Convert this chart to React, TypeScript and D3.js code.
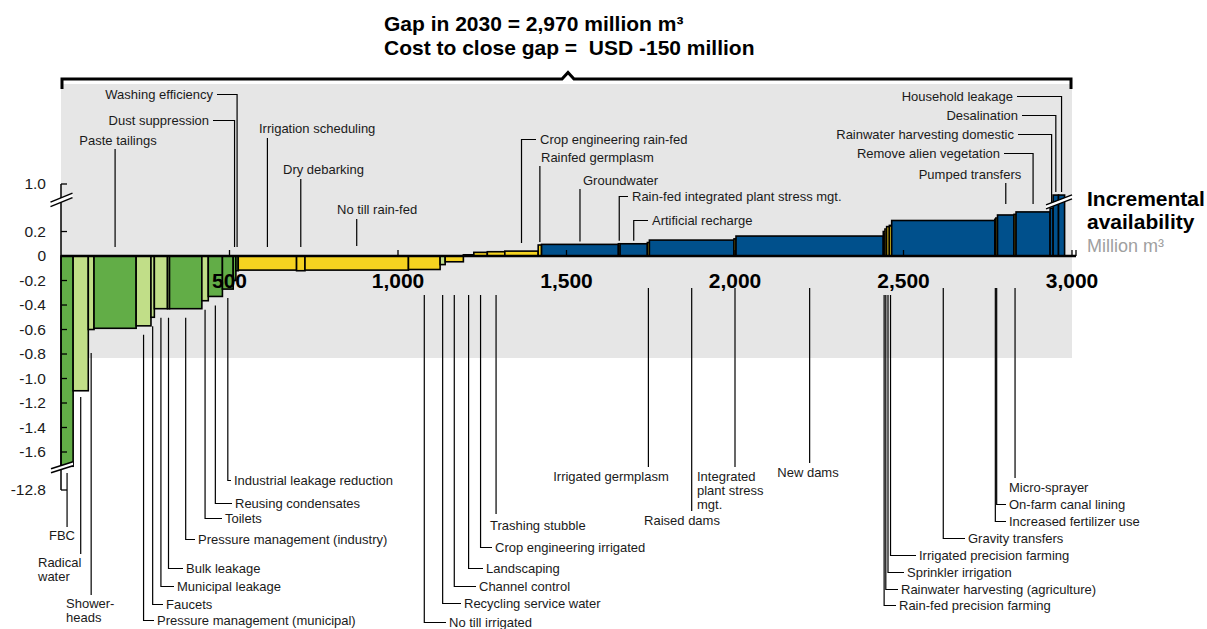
import * as d3 from "d3";

// Water supply cost curve: volumes in million m3, costs in USD per m3
const measures = [
  "FBC", "Radical water", "Shower-heads", "Paste tailings", "Pressure management (municipal)",
  "Faucets", "Municipal leakage", "Bulk leakage", "Pressure management (industry)", "Toilets",
  "Reusing condensates", "Industrial leakage reduction", "Dust suppression", "Washing efficiency",
  "Irrigation scheduling", "Dry debarking", "No till rain-fed", "No till irrigated",
  "Recycling service water", "Channel control", "Landscaping", "Crop engineering irrigated",
  "Trashing stubble", "Crop engineering rain-fed", "Rainfed germplasm", "Groundwater",
  "Rain-fed integrated plant stress mgt.", "Artificial recharge", "Irrigated germplasm", "Raised dams",
  "Integrated plant stress mgt.", "New dams", "Rain-fed precision farming",
  "Rainwater harvesting (agriculture)", "Sprinkler irrigation", "Irrigated precision farming",
  "Gravity transfers", "Increased fertilizer use", "On-farm canal lining", "Pumped transfers",
  "Micro-sprayer", "Remove alien vegetation", "Rainwater harvesting domestic", "Desalination",
  "Household leakage",
];

const volumes = [
  36, 45, 17, 125, 44, 10, 39, 6, 96, 19, 42, 32, 8, 7,
  173, 25, 307, 94, 15, 54, 31, 40, 52, 99,
  10, 228, 5, 81, 6, 251, 6, 437,
  5, 5, 8, 7, 306, 3, 5, 49, 6, 101, 9, 16, 18,
];

const costs = [
  -12.8, -1.1, -0.6, -0.59, -0.57, -0.5, -0.43, -0.43, -0.43, -0.365, -0.33, -0.27, -0.2, -0.12,
  -0.115, -0.12, -0.115, -0.11, -0.07, -0.047, 0.01, 0.03, 0.035, 0.04,
  0.09, 0.095, 0.1, 0.1, 0.11, 0.13, 0.14, 0.163,
  0.2, 0.22, 0.24, 0.25, 0.29, 0.3, 0.31, 0.335, 0.34, 0.36, 0.39, 0.64, 0.64,
];

// ind = industry, mun = municipal, agr = agriculture, sup = supply
const sectors = [
  "ind", "mun", "mun", "ind", "mun", "mun", "mun", "mun", "ind", "mun", "ind", "ind", "ind", "ind",
  "agr", "agr", "agr", "agr", "mun", "agr", "mun", "agr", "agr", "agr",
  "agr", "sup", "agr", "sup", "agr", "sup", "agr", "sup",
  "agr", "agr", "agr", "agr", "sup", "agr", "agr", "sup", "agr", "sup", "sup", "sup", "sup",
];

const xTicks = [500, 1000, 1500, 2000, 2500, 3000];
const xTickLabels = ["500", "1,000", "1,500", "2,000", "2,500", "3,000"];
const yTicks = [1.0, 0.2, 0, -0.2, -0.4, -0.6, -0.8, -1.0, -1.2, -1.4, -1.6, -12.8];
const yTickLabels = ["1.0", "0.2", "0", "-0.2", "-0.4", "-0.6", "-0.8", "-1.0", "-1.2", "-1.4", "-1.6", "-12.8"];

const colors: Record<string, string> = {
  ind: "#62ad47",
  mun: "#c1de88",
  agr: "#f5d320",
  sup: "#00508c",
};

// label placement (annotation layout only)
type Note = {
  side: "t" | "b";
  tx: number;
  ty: number;
  anchor?: "start" | "middle" | "end";
  hook?: boolean;
  y1?: number;
  y2?: number;
  lines?: string[];
};

const notes: Note[] = [
  { side: "b", tx: 62, ty: 540, anchor: "middle", y1: 473, y2: 527 },
  { side: "b", tx: 38, ty: 567, lines: ["Radical", "water"], y1: 397, y2: 554 },
  { side: "b", tx: 66, ty: 608, lines: ["Shower-", "heads"], y1: 353, y2: 595 },
  { side: "t", tx: 118, ty: 145, anchor: "middle", y1: 149, y2: 247 },
  { side: "b", tx: 157, ty: 625, hook: true },
  { side: "b", tx: 166, ty: 609, hook: true },
  { side: "b", tx: 177, ty: 591, hook: true },
  { side: "b", tx: 186, ty: 573, hook: true },
  { side: "b", tx: 198, ty: 544, hook: true },
  { side: "b", tx: 225, ty: 523, hook: true },
  { side: "b", tx: 235, ty: 508, hook: true },
  { side: "b", tx: 234, ty: 485, hook: true },
  { side: "t", tx: 209, ty: 125, anchor: "end", hook: true, y2: 247 },
  { side: "t", tx: 213, ty: 99, anchor: "end", hook: true, y2: 247 },
  { side: "t", tx: 259, ty: 133, y1: 138, y2: 247 },
  { side: "t", tx: 283, ty: 174, y1: 179, y2: 247 },
  { side: "t", tx: 337, ty: 214, y1: 219, y2: 246 },
  { side: "b", tx: 449, ty: 627, hook: true, y1: 295 },
  { side: "b", tx: 464, ty: 608, hook: true, y1: 295 },
  { side: "b", tx: 479, ty: 591, hook: true, y1: 295 },
  { side: "b", tx: 486, ty: 573, hook: true, y1: 295 },
  { side: "b", tx: 495, ty: 552, hook: true, y1: 295 },
  { side: "b", tx: 490, ty: 530, y1: 295, y2: 514 },
  { side: "t", tx: 540, ty: 144, hook: true, y2: 243 },
  { side: "t", tx: 541, ty: 162, y1: 166 },
  { side: "t", tx: 583, ty: 185, y1: 189 },
  { side: "t", tx: 632, ty: 201, hook: true },
  { side: "t", tx: 652, ty: 225, hook: true },
  { side: "b", tx: 611, ty: 481, anchor: "middle", y1: 288, y2: 467 },
  { side: "b", tx: 682, ty: 525, anchor: "middle", y1: 288, y2: 511 },
  { side: "b", tx: 697, ty: 481, lines: ["Integrated", "plant stress", "mgt."], y1: 288, y2: 467 },
  { side: "b", tx: 808, ty: 477, anchor: "middle", y1: 288, y2: 463 },
  { side: "b", tx: 899, ty: 610, hook: true, y1: 295 },
  { side: "b", tx: 901, ty: 594, hook: true, y1: 295 },
  { side: "b", tx: 907, ty: 577, hook: true, y1: 295 },
  { side: "b", tx: 919, ty: 560, hook: true, y1: 295 },
  { side: "b", tx: 968, ty: 543, hook: true, y1: 288 },
  { side: "b", tx: 1009, ty: 526, hook: true, y1: 288 },
  { side: "b", tx: 1009, ty: 509, hook: true, y1: 288 },
  { side: "t", tx: 970, ty: 179, anchor: "middle", y1: 183, y2: 204 },
  { side: "b", tx: 1009, ty: 492, y1: 288, y2: 478 },
  { side: "t", tx: 1000, ty: 158, anchor: "end", hook: true, y2: 204 },
  { side: "t", tx: 1014, ty: 139, anchor: "end", hook: true, y2: 203 },
  { side: "t", tx: 1018, ty: 120, anchor: "end", hook: true },
  { side: "t", tx: 1013, ty: 101, anchor: "end", hook: true },
];

const font = "'Liberation Sans', Arial, Helvetica, sans-serif";

export default function App() {
  const width = 1207;
  const height = 629;

  const x = d3.scaleLinear().domain([0, 3000]).range([61, 1072]);
  // broken axis: piecewise scale with compressed ends
  const y = d3.scaleLinear().domain([-12.8, -1.7, 0.45, 1.0]).range([490, 464.25, 200.9, 184]);
  const y0 = y(0);

  const ends = Array.from(d3.cumsum(volumes));
  const bars = measures.map((name, i) => {
    const v0 = ends[i] - volumes[i];
    const v1 = ends[i];
    const c = costs[i];
    const yv = Math.min(y(c), y(-1.7) + 2);
    return {
      name,
      x0: x(v0),
      x1: x(v1),
      mid: x((v0 + v1) / 2),
      top: Math.min(yv, y0),
      bottom: Math.max(yv, y0),
      cost: c,
      color: colors[sectors[i]],
    };
  });

  // slanted break marks
  const breakMark = (cx: number, cy: number, hw: number, dy: number, gap: number, key: string) => {
    const p1 = [cx - hw, cy + dy / 2];
    const p2 = [cx + hw, cy - dy / 2];
    const poly = `${p1[0]},${p1[1] - gap / 2} ${p2[0]},${p2[1] - gap / 2} ${p2[0]},${p2[1] + gap / 2} ${p1[0]},${p1[1] + gap / 2}`;
    return (
      <g key={key}>
        <polygon points={poly} fill="#fff" />
        <line x1={p1[0]} y1={p1[1] - gap / 2} x2={p2[0]} y2={p2[1] - gap / 2} stroke="#000" strokeWidth={1.5} />
        <line x1={p1[0]} y1={p1[1] + gap / 2} x2={p2[0]} y2={p2[1] + gap / 2} stroke="#000" strokeWidth={1.5} />
      </g>
    );
  };

  const leaders = bars.map((b, i) => {
    const n = notes[i];
    const bx = b.mid;
    let d = "";
    if (n.side === "b") {
      const start = n.y1 ?? b.bottom + 9;
      if (n.hook) {
        const hy = n.ty - 4.5;
        d = `M${bx},${start}V${hy}H${n.tx - 3}`;
      } else {
        d = `M${bx},${start}V${n.y2}`;
      }
    } else {
      const end = n.y2 ?? (b.cost < 0 ? y0 - 9 : b.top - 3);
      if (n.hook) {
        const hy = n.ty - 4.5;
        if (n.anchor === "end") d = `M${n.tx + 4},${hy}H${bx}V${end}`;
        else d = `M${n.tx - 4},${hy}H${bx}V${end}`;
      } else {
        d = `M${bx},${n.y1}V${end}`;
      }
    }
    return <path key={"l" + i} d={d} fill="none" stroke="#000" strokeWidth={1.2} />;
  });

  const labels = bars.map((b, i) => {
    const n = notes[i];
    const lines = n.lines ?? [b.name];
    return (
      <text key={"t" + i} x={n.tx} y={n.ty} textAnchor={n.anchor ?? "start"} fontSize={13} fill="#1a1a1a">
        {lines.map((ln, k) => (
          <tspan key={k} x={n.tx} dy={k === 0 ? 0 : 14}>
            {ln}
          </tspan>
        ))}
      </text>
    );
  });

  return (
    <svg
      width={width}
      height={height}
      style={{ position: "absolute", left: 0, top: 0, fontFamily: font, background: "#fff" }}
    >
      {/* shaded gap area */}
      <rect x={x(0)} y={84} width={x(3000) - x(0)} height={358 - 84} fill="#e6e6e6" />

      {/* header bracket */}
      <path d="M62,89V79H562L568,72.5L574,79H1071V89" fill="none" stroke="#000" strokeWidth={3} />
      <text x={384} y={31} fontSize={21} fontWeight="bold" fill="#000">
        Gap in 2030 = 2,970 million m³
      </text>
      <text x={384} y={55} fontSize={21} fontWeight="bold" fill="#000" xmlSpace="preserve">
        Cost to close gap =  USD -150 million
      </text>

      {/* bars */}
      {bars.map((b, i) => (
        <rect
          key={"b" + i}
          x={b.x0}
          y={b.top}
          width={Math.max(b.x1 - b.x0, 0.5)}
          height={b.bottom - b.top}
          fill={b.color}
          stroke="#000"
          strokeWidth={1.6}
        />
      ))}

      {/* y axis */}
      <line x1={61} x2={61} y1={y(1.0)} y2={y(-12.8)} stroke="#000" strokeWidth={1.5} />
      {yTicks.map((t, i) => (
        <g key={"yt" + i}>
          <line x1={61} x2={67} y1={y(t)} y2={y(t)} stroke="#000" strokeWidth={1.3} />
          <text x={46} y={y(t) + 5} textAnchor="end" fontSize={15.5} fill="#1a1a1a">
            {yTickLabels[i]}
          </text>
        </g>
      ))}

      {/* x axis */}
      <line x1={x(0)} x2={1076} y1={y0} y2={y0} stroke="#000" strokeWidth={2.5} />
      {xTicks.map((t, i) => (
        <line key={"xt" + i} x1={x(t)} x2={x(t)} y1={y0} y2={y0 - 6} stroke="#000" strokeWidth={1.3} />
      ))}
      <line x1={1076} x2={1076} y1={y0} y2={y0 - 6} stroke="#000" strokeWidth={1.3} />

      {/* axis breaks */}
      {breakMark(61.5, y(0.45) - 1, 11, 9, 4.5, "bk1")}
      {breakMark(62, y(-1.7) + 3, 11, 7, 4, "bk2")}
      {breakMark(1059, y(0.45) + 1, 13, 10, 4, "bk3")}

      {leaders}
      {labels}

      {xTicks.map((t, i) => (
        <text key={"xl" + i} x={x(t)} y={288} textAnchor="middle" fontSize={21} fontWeight="bold" fill="#000">
          {xTickLabels[i]}
        </text>
      ))}

      {/* axis title */}
      <text x={1087} y={206} fontSize={21} fontWeight="bold" fill="#000">
        Incremental
      </text>
      <text x={1087} y={229} fontSize={21} fontWeight="bold" fill="#000">
        availability
      </text>
      <text x={1087} y={252} fontSize={18} fill="#a0a0a0">
        Million m³
      </text>
    </svg>
  );
}
